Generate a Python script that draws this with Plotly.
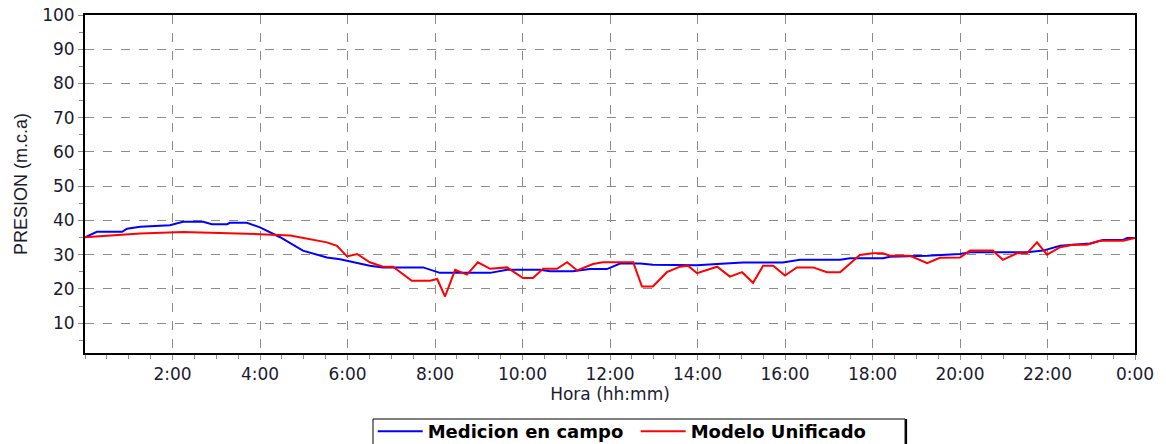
import plotly.graph_objects as go

# Hours since 0:00
blue_t = [0.0, 0.27, 0.85, 0.96, 1.26, 1.94, 2.24, 2.70, 2.90, 3.25, 3.31, 3.70, 4.00, 4.46, 4.98,
          5.53, 5.83, 6.29, 6.51, 6.81, 7.73, 8.11, 9.26, 9.65, 10.40, 10.63, 11.15, 11.54, 11.93,
          12.23, 12.69, 12.98, 13.99, 14.45, 15.04, 15.95, 16.34, 17.26, 17.49, 18.24, 18.40, 19.25,
          20.00, 20.23, 21.53, 21.90, 22.29, 22.97, 23.27, 23.73, 23.82, 24.0]
blue_v = [35.1, 36.7, 36.7, 37.6, 38.2, 38.6, 39.6, 39.6, 38.9, 38.9, 39.3, 39.3, 38.0, 35.1, 31.2,
          29.2, 28.7, 27.5, 26.8, 26.3, 26.3, 24.7, 24.7, 25.6, 25.6, 25.2, 25.2, 25.8, 25.8,
          27.4, 27.4, 27.1, 26.9, 27.3, 27.7, 27.7, 28.5, 28.5, 29.0, 29.0, 29.4, 29.7,
          30.2, 30.7, 30.7, 31.2, 32.6, 33.3, 34.3, 34.3, 34.9, 34.9]

red_t = [0.0, 0.80, 1.26, 2.24, 3.54, 4.00, 4.69, 5.21, 5.53, 5.76, 5.83, 5.99, 6.22, 6.51, 6.81,
         7.04, 7.47, 7.89, 8.05, 8.23, 8.46, 8.73, 8.98, 9.26, 9.65, 10.01, 10.24, 10.47, 10.79,
         11.02, 11.25, 11.61, 11.84, 12.53, 12.73, 12.98, 13.30, 13.60, 13.78, 13.99, 14.45, 14.74,
         15.02, 15.27, 15.50, 15.73, 16.00, 16.27, 16.64, 16.96, 17.26, 17.71, 18.01, 18.24, 18.40,
         18.86, 19.25, 19.54, 20.00, 20.23, 20.75, 20.98, 21.30, 21.53, 21.76, 21.99, 22.29, 22.58,
         22.90, 23.20, 23.73, 24.0]
red_v = [35.1, 35.8, 36.2, 36.6, 36.2, 36.0, 35.6, 34.3, 33.6, 32.6, 31.7, 29.5, 30.2, 27.8, 26.5,
         26.5, 22.4, 22.4, 22.9, 17.8, 25.6, 24.2, 27.8, 25.9, 26.3, 23.2, 23.2, 25.9, 25.9,
         27.8, 25.4, 27.3, 27.8, 27.8, 20.7, 20.7, 24.9, 26.5, 26.8, 24.6, 26.5, 23.6,
         24.9, 21.8, 26.8, 26.8, 23.9, 26.3, 26.3, 24.9, 24.9, 29.9, 30.4, 30.4, 29.7,
         29.7, 27.5, 29.1, 29.2, 31.2, 31.2, 28.5, 30.4, 30.4, 33.6, 30.0, 32.2, 32.9,
         32.9, 34.1, 34.1, 34.9]

x_tickvals = [2, 4, 6, 8, 10, 12, 14, 16, 18, 20, 22, 24]
x_ticktext = ["2:00", "4:00", "6:00", "8:00", "10:00", "12:00", "14:00", "16:00",
              "18:00", "20:00", "22:00", "0:00"]
y_tickvals = [10, 20, 30, 40, 50, 60, 70, 80, 90, 100]

FONT = "DejaVu Sans, sans-serif"
FONT_NARROW = "Liberation Sans, Arial, sans-serif"
TXT = "#1a1a30"

fig = go.Figure()
fig.add_trace(go.Scatter(x=blue_t, y=blue_v, mode="lines", name="Medicion en campo",
                         line=dict(color="#0000ff", width=2)))
fig.add_trace(go.Scatter(x=red_t, y=red_v, mode="lines", name="Modelo Unificado",
                         line=dict(color="#ff0000", width=2)))

# page body has an 8px default margin, so the figure is sized/offset to compensate
fig.update_layout(
    width=1158, height=436,
    margin=dict(l=77, r=31, t=7, b=91, autoexpand=False),
    plot_bgcolor="white", paper_bgcolor="white",
    font=dict(family=FONT, size=17, color=TXT),
    showlegend=True,
    legend=dict(orientation="h", x=0.274, xanchor="left", y=-0.178, yanchor="top",
                borderwidth=0, bgcolor="rgba(0,0,0,0)",
                font=dict(family=FONT, size=18, color="black", weight="bold"),
                itemwidth=45, entrywidth=203, entrywidthmode="pixels", tracegroupgap=0),
    shapes=[
        # legend frame (bottom runs off the page as in the original)
        dict(type="rect", xref="paper", yref="paper", x0=0.2743, x1=0.781, y0=-0.1953, y1=-0.32,
             line=dict(color="black", width=1), fillcolor="white", layer="below"),
        dict(type="line", xref="paper", yref="paper", x0=0.782, x1=0.782, y0=-0.1953, y1=-0.32,
             line=dict(color="black", width=2)),
    ],
)
fig.update_xaxes(
    range=[0, 24], tickvals=x_tickvals, ticktext=x_ticktext, automargin=False,
    showline=True, linecolor="black", linewidth=2, mirror=True,
    showgrid=True, gridcolor="#8c8c8c", griddash="dash", gridwidth=1,
    ticks="outside", ticklen=5, tickcolor="#8c8c8c", ticklabeloverflow="allow",
    minor=dict(dtick=0.5, tick0=0, ticks="outside", ticklen=4, tickcolor="#8c8c8c", showgrid=False),
    zeroline=False,
    title=dict(text="Hora (hh:mm)", font=dict(family=FONT, size=17), standoff=2),
    tickfont=dict(family=FONT, size=17, color=TXT),
)
fig.update_yaxes(
    range=[1.3, 100], tickvals=y_tickvals, automargin=False,
    showline=True, linecolor="black", linewidth=2, mirror=True,
    showgrid=True, gridcolor="#8c8c8c", griddash="dash", gridwidth=1,
    ticks="outside", ticklen=5, tickcolor="#8c8c8c", ticklabeloverflow="allow",
    minor=dict(dtick=5, tick0=0, ticks="outside", ticklen=4, tickcolor="#8c8c8c", showgrid=False),
    zeroline=False,
    title=dict(text="PRESION (m.c.a)", font=dict(family=FONT_NARROW, size=18), standoff=10),
    tickfont=dict(family=FONT, size=17, color=TXT),
)

fig.write_html("out.html")
